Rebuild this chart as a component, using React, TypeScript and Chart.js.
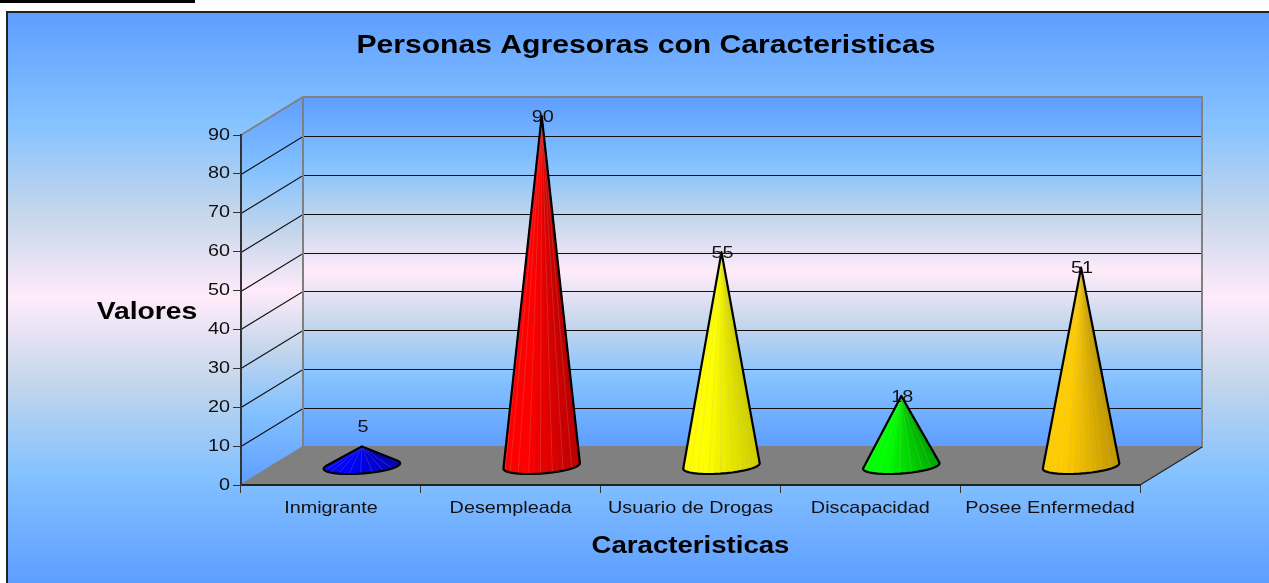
import React, { useEffect, useRef } from "react";
import { Chart, registerables } from "chart.js";

Chart.register(...registerables);

const categories = ["Inmigrante", "Desempleada", "Usuario de Drogas", "Discapacidad", "Posee Enfermedad"];
const values = [5, 90, 55, 18, 51];
const coneBright = [[0, 0, 255], [255, 0, 0], [255, 255, 0], [0, 255, 0], [255, 204, 0]];
const coneDark = [[0, 0, 185], [185, 0, 0], [205, 205, 0], [0, 165, 0], [190, 150, 0]];
const yTicksMax = 90;
const yTickStep = 10;
const chartTitle = "Personas Agresoras con Caracteristicas";
const xTitle = "Caracteristicas";
const yTitle = "Valores";

const FONT = '"Liberation Sans", Arial, sans-serif';
const DEPTH_X = 62;
const DEPTH_Y = 38;
const INK = "#111111";
const AREA = { left: 241, right: 1140, top: 135, bottom: 485 };

function daybreak(ctx: CanvasRenderingContext2D, y0: number, y1: number) {
  const g = ctx.createLinearGradient(0, y0, 0, y1);
  g.addColorStop(0, "#5E9EFF");
  g.addColorStop(0.195, "#85C2FF");
  g.addColorStop(0.35, "#C4D6EB");
  g.addColorStop(0.5, "#FFEBFA");
  g.addColorStop(0.65, "#C4D6EB");
  g.addColorStop(0.805, "#85C2FF");
  g.addColorStop(1, "#5E9EFF");
  return g;
}

function poly(ctx: CanvasRenderingContext2D, pts: number[][]) {
  ctx.beginPath();
  pts.forEach((p, i) => (i ? ctx.lineTo(p[0], p[1]) : ctx.moveTo(p[0], p[1])));
  ctx.closePath();
}

function hull(points: number[][]) {
  const p = [...points].sort((a, b) => a[0] - b[0] || a[1] - b[1]);
  const cross = (o: number[], a: number[], b: number[]) =>
    (a[0] - o[0]) * (b[1] - o[1]) - (a[1] - o[1]) * (b[0] - o[0]);
  const lo: number[][] = [];
  for (const q of p) {
    while (lo.length >= 2 && cross(lo[lo.length - 2], lo[lo.length - 1], q) <= 0) lo.pop();
    lo.push(q);
  }
  const up: number[][] = [];
  for (const q of [...p].reverse()) {
    while (up.length >= 2 && cross(up[up.length - 2], up[up.length - 1], q) <= 0) up.pop();
    up.push(q);
  }
  return lo.slice(0, -1).concat(up.slice(0, -1));
}

const scenePlugin = {
  id: "scene",
  beforeInit(chart: any) {
    // the reference's text is horizontally stretched: widen every string around its anchor
    const ctx = chart.ctx;
    if (ctx.__stretched) return;
    ctx.__stretched = true;
    const fill = ctx.fillText.bind(ctx);
    ctx.fillText = (text: string, x: number, y: number) => {
      ctx.save();
      ctx.translate(x, y);
      ctx.scale(ctx.font.startsWith("bold") ? 1.15 : 1.2, 1);
      fill(text, 0, 0);
      ctx.restore();
    };
  },
  beforeDraw(chart: any) {
    const { ctx, width, height } = chart;
    const { left, right, top, bottom } = chart.chartArea;
    ctx.save();
    ctx.fillStyle = daybreak(ctx, 11, height);
    ctx.fillRect(6, 11, width - 6, height - 11);
    ctx.strokeStyle = "#222222";
    ctx.lineWidth = 2;
    ctx.beginPath();
    ctx.moveTo(7, height);
    ctx.lineTo(7, 12);
    ctx.lineTo(width, 12);
    ctx.stroke();

    // side wall, back wall, floor
    ctx.fillStyle = daybreak(ctx, top - DEPTH_Y, bottom);
    poly(ctx, [[left, top], [left + DEPTH_X, top - DEPTH_Y], [left + DEPTH_X, bottom - DEPTH_Y], [left, bottom]]);
    ctx.fill();
    ctx.fillStyle = daybreak(ctx, top - DEPTH_Y, bottom - DEPTH_Y);
    ctx.fillRect(left + DEPTH_X, top - DEPTH_Y, right - left, bottom - top);
    ctx.fillStyle = "#808080";
    poly(ctx, [[left, bottom], [right, bottom], [right + DEPTH_X, bottom - DEPTH_Y], [left + DEPTH_X, bottom - DEPTH_Y]]);
    ctx.fill();

    // gridlines on the walls
    const yScale = chart.scales.y;
    ctx.strokeStyle = "#111111";
    ctx.lineWidth = 1.2;
    yScale.ticks.forEach((t: any) => {
      if (t.value === 0 || t.value === yTicksMax) return;
      const y = Math.round(yScale.getPixelForValue(t.value)) + 0.5;
      ctx.beginPath();
      ctx.moveTo(left, y);
      ctx.lineTo(left + DEPTH_X, y - DEPTH_Y);
      ctx.lineTo(right + DEPTH_X, y - DEPTH_Y);
      ctx.stroke();
    });

    // wall edges
    ctx.strokeStyle = "#808080";
    ctx.lineWidth = 2;
    ctx.beginPath();
    ctx.moveTo(left, top);
    ctx.lineTo(left + DEPTH_X, top - DEPTH_Y);
    ctx.lineTo(right + DEPTH_X, top - DEPTH_Y);
    ctx.lineTo(right + DEPTH_X, bottom - DEPTH_Y);
    ctx.lineTo(left + DEPTH_X, bottom - DEPTH_Y);
    ctx.lineTo(left, bottom);
    ctx.moveTo(left + DEPTH_X, top - DEPTH_Y);
    ctx.lineTo(left + DEPTH_X, bottom - DEPTH_Y);
    ctx.stroke();
    ctx.strokeStyle = "#222222";
    ctx.lineWidth = 1.2;
    ctx.beginPath();
    ctx.moveTo(right, bottom);
    ctx.lineTo(right + DEPTH_X, bottom - DEPTH_Y);
    ctx.stroke();
    ctx.restore();
  },
  afterDatasetsDraw(chart: any) {
    const { ctx } = chart;
    const meta = chart.getDatasetMeta(0);
    const base = chart.scales.y.getPixelForValue(0) - DEPTH_Y / 2;
    const [ex, skew, ey] = [36, 13, 8];
    ctx.save();
    meta.data.forEach((bar: any, i: number) => {
      const cx = bar.x + DEPTH_X / 2;
      const apex = [cx, bar.y - DEPTH_Y / 2];
      const n = 40;
      const rim: number[][] = [];
      for (let k = 0; k < n; k++) {
        const th = (k / n) * Math.PI * 2;
        rim.push([cx + ex * Math.cos(th) + skew * Math.sin(th), base - ey * Math.sin(th)]);
      }
      // facets, back ones first
      const order = rim.map((_, k) => k).sort((a, b) => rim[a][1] - rim[b][1]);
      order.forEach((k) => {
        const p = rim[k];
        const q = rim[(k + 1) % n];
        const mx = ((p[0] + q[0]) / 2 - cx) / 38.5; // -1 left .. 1 right
        const t = Math.max(0, Math.min(1, (mx + 0.45) / 1.45));
        const c = coneBright[i].map((v, j) => Math.round(v + (coneDark[i][j] - v) * t));
        poly(ctx, [apex, p, q]);
        ctx.fillStyle = `rgb(${c[0]},${c[1]},${c[2]})`;
        ctx.fill();
        ctx.strokeStyle = `rgb(${c[0]},${c[1]},${c[2]})`;
        ctx.lineWidth = 0.5;
        ctx.stroke();
      });
      // light seams between the front facets
      rim.forEach((p, k) => {
        if (k % 2 === 0 && p[1] > base + 1) {
          ctx.beginPath();
          ctx.moveTo(apex[0], apex[1]);
          ctx.lineTo(p[0], p[1]);
          ctx.strokeStyle = "rgba(185,185,185,0.28)";
          ctx.lineWidth = 0.7;
          ctx.stroke();
        }
      });
      poly(ctx, hull([...rim, apex]));
      ctx.strokeStyle = "#000000";
      ctx.lineWidth = 2.2;
      ctx.lineJoin = "round";
      ctx.stroke();
    });

    // value labels
    ctx.fillStyle = INK;
    ctx.font = `16.5px ${FONT}`;
    ctx.textAlign = "center";
    ctx.textBaseline = "middle";
    meta.data.forEach((bar: any, i: number) => {
      const lift = values[i] < 10 ? 20 : 0;
      ctx.fillText(String(values[i]), bar.x + DEPTH_X / 2 + 1, bar.y - DEPTH_Y / 2 - lift + 1);
    });

    // titles
    ctx.fillStyle = "#000000";
    ctx.font = `bold 26.2px ${FONT}`;
    ctx.fillText(chartTitle, 646, 46);
    ctx.font = `bold 24.6px ${FONT}`;
    ctx.fillText(yTitle, 147, 312);
    ctx.restore();
  },
};

export default function App() {
  const ref = useRef<HTMLCanvasElement | null>(null);

  useEffect(() => {
    if (!ref.current) return;
    const chart = new Chart(ref.current, {
      type: "bar",
      data: {
        labels: categories,
        datasets: [{ data: values, backgroundColor: "transparent", borderWidth: 0 }],
      },
      options: {
        responsive: false,
        animation: false,
        layout: { padding: { left: 0, top: AREA.top, right: 1269 - AREA.right, bottom: 0 } },
        plugins: { legend: { display: false }, title: { display: false }, tooltip: { enabled: false } },
        scales: {
          x: {
            afterFit: (s: any) => {
              s.height = 583 - AREA.bottom;
            },
            border: { color: "#222222", width: 2 },
            grid: { drawOnChartArea: false, tickLength: 8, tickColor: "#333333", tickWidth: 1 },
            ticks: { color: INK, font: { family: FONT, size: 16.5 }, padding: 6, maxRotation: 0, autoSkip: false },
            title: {
              display: true,
              text: xTitle,
              color: "#000000",
              font: { family: FONT, size: 24, weight: "bold" },
              padding: { top: 0, bottom: 22 },
            },
          },
          y: {
            min: 0,
            max: yTicksMax,
            afterFit: (s: any) => {
              s.width = AREA.left;
            },
            border: { color: "#333333", width: 2 },
            grid: { drawOnChartArea: false, tickLength: 8, tickColor: "#333333", tickWidth: 1 },
            ticks: { stepSize: yTickStep, color: INK, font: { family: FONT, size: 16.5 }, padding: 3 },
          },
        },
      },
      plugins: [scenePlugin],
    } as any);
    return () => chart.destroy();
  }, []);

  return (
    <div style={{ position: "absolute", left: 0, top: 0, width: 1269, height: 583, overflow: "hidden", background: "#fff" }}>
      <div style={{ position: "absolute", left: 0, top: 0, width: 195, height: 3, background: "#000" }} />
      <canvas ref={ref} width={1269} height={583} style={{ display: "block" }} />
    </div>
  );
}
